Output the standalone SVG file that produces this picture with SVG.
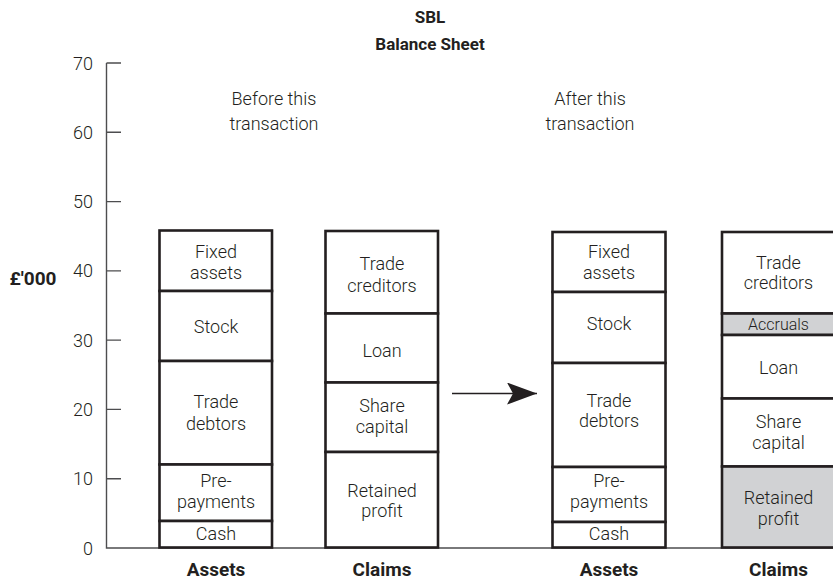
<svg xmlns="http://www.w3.org/2000/svg" width="833" height="579" viewBox="0 0 833 579">
<style>
text{font-family:Roboto,"Liberation Sans",sans-serif;fill:#231f20}
.l{font-weight:300;font-size:18px;text-anchor:middle}
.s{font-size:16px}
.b{font-weight:700;font-size:17px;text-anchor:middle}
.c{font-size:19px}
.t{font-weight:300;font-size:18px;text-anchor:end}
.box{fill:#fff;stroke:#231f20;stroke-width:2.6}
.g{fill:#d1d2d4}
.ax{stroke:#4d4d4f;stroke-width:1.4;fill:none}
</style>
<defs>
<marker id="ah" markerWidth="32" markerHeight="22" refX="30" refY="11" orient="auto" markerUnits="userSpaceOnUse">
<path d="M0,0 L30,11 L0,22 L6,11 Z" fill="#231f20"/>
</marker>
</defs>
<g id="title">
<text class="b" x="430" y="23">SBL</text>
<text class="b" x="430" y="50">Balance Sheet</text>
<text class="l" x="274" y="105">Before this</text>
<text class="l" x="274" y="130">transaction</text>
<text class="l" x="590" y="105">After this</text>
<text class="l" x="590" y="130">transaction</text>
</g>
<g id="axis">
<path class="ax" d="M106.5,63 V548 H833 M106.5,63 H121 M106.5,132.3 H121 M106.5,201.6 H121 M106.5,270.9 H121 M106.5,340.1 H121 M106.5,409.4 H121 M106.5,478.7 H121"/>
<text class="t" x="93" y="69.5">70</text>
<text class="t" x="93" y="138.8">60</text>
<text class="t" x="93" y="208">50</text>
<text class="t" x="93" y="277.3">40</text>
<text class="t" x="93" y="346.6">30</text>
<text class="t" x="93" y="415.9">20</text>
<text class="t" x="93" y="485.2">10</text>
<text class="t" x="93" y="554.5">0</text>
<text class="b c" x="33" y="285">£'000</text>
</g>
<g id="assets-before">
<rect class="box" x="159.5" y="230.5" width="112.5" height="60.5"/>
<rect class="box" x="159.5" y="291" width="112.5" height="70"/>
<rect class="box" x="159.5" y="361" width="112.5" height="103.5"/>
<rect class="box" x="159.5" y="464.5" width="112.5" height="56.5"/>
<rect class="box" x="159.5" y="521" width="112.5" height="26.5"/>
<text class="l" x="216" y="258">Fixed</text>
<text class="l" x="216" y="279">assets</text>
<text class="l" x="216" y="333">Stock</text>
<text class="l" x="216" y="408">Trade</text>
<text class="l" x="216" y="430">debtors</text>
<text class="l" x="216" y="487">Pre-</text>
<text class="l" x="216" y="508">payments</text>
<text class="l" x="216" y="540">Cash</text>
<text class="b c" x="216" y="575.5">Assets</text>
</g>
<g id="claims-before">
<rect class="box" x="325.5" y="231" width="112.5" height="82.5"/>
<rect class="box" x="325.5" y="313.5" width="112.5" height="69"/>
<rect class="box" x="325.5" y="382.5" width="112.5" height="69.5"/>
<rect class="box" x="325.5" y="452" width="112.5" height="95.5"/>
<text class="l" x="382" y="270">Trade</text>
<text class="l" x="382" y="291.5">creditors</text>
<text class="l" x="382" y="357">Loan</text>
<text class="l" x="382" y="411.5">Share</text>
<text class="l" x="382" y="433">capital</text>
<text class="l" x="382" y="496.5">Retained</text>
<text class="l" x="382" y="517">profit</text>
<text class="b c" x="382" y="575.5">Claims</text>
</g>
<g id="assets-after">
<rect class="box" x="552.5" y="232" width="113" height="60"/>
<rect class="box" x="552.5" y="292" width="113" height="71"/>
<rect class="box" x="552.5" y="363" width="113" height="104"/>
<rect class="box" x="552.5" y="467" width="113" height="55"/>
<rect class="box" x="552.5" y="522" width="113" height="25.5"/>
<text class="l" x="609" y="258">Fixed</text>
<text class="l" x="609" y="279">assets</text>
<text class="l" x="609" y="330">Stock</text>
<text class="l" x="609" y="406.5">Trade</text>
<text class="l" x="609" y="427">debtors</text>
<text class="l" x="609" y="487">Pre-</text>
<text class="l" x="609" y="508">payments</text>
<text class="l" x="609" y="540">Cash</text>
<text class="b c" x="609" y="575.5">Assets</text>
</g>
<g id="claims-after">
<rect class="box" x="722" y="232" width="113" height="81.5"/>
<rect class="box g" x="722" y="313.5" width="113" height="21.5"/>
<rect class="box" x="722" y="335" width="113" height="63.5"/>
<rect class="box" x="722" y="398.5" width="113" height="68"/>
<rect class="box g" x="722" y="466.5" width="113" height="81"/>
<text class="l" x="778.5" y="268.5">Trade</text>
<text class="l" x="778.5" y="288.5">creditors</text>
<text class="l s" x="778.5" y="330">Accruals</text>
<text class="l" x="778.5" y="373.5">Loan</text>
<text class="l" x="778.5" y="428">Share</text>
<text class="l" x="778.5" y="448.5">capital</text>
<text class="l" x="778.5" y="503.5">Retained</text>
<text class="l" x="778.5" y="524.5">profit</text>
<text class="b c" x="778.5" y="575.5">Claims</text>
</g>
<g id="connectors">
<line x1="452" y1="393.5" x2="537" y2="393.5" stroke="#231f20" stroke-width="1.4" marker-end="url(#ah)"/>
</g>
</svg>
